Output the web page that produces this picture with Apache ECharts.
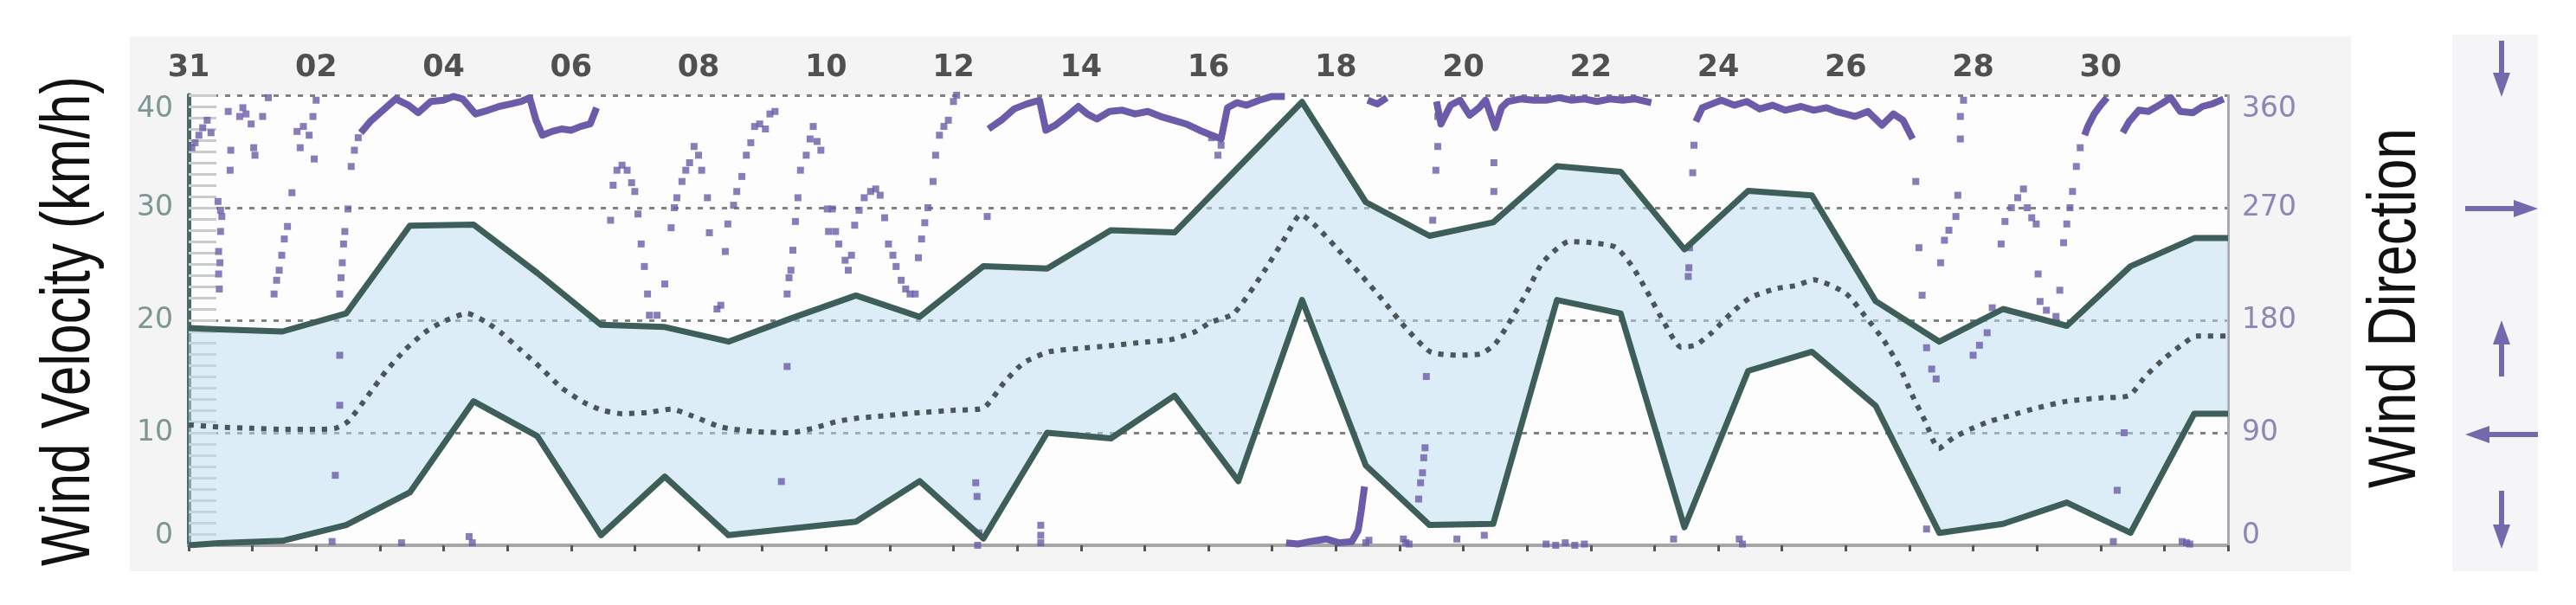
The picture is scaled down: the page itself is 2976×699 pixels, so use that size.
<!DOCTYPE html>
<html>
<head>
<meta charset="utf-8">
<script src="https://cdn.jsdelivr.net/npm/echarts@6/dist/echarts.min.js"></script>
<style>
html, body { margin: 0; padding: 0; background: #fff; }
.wrap { position: relative; width: 2976px; height: 699px; }
.panel { position: absolute; left: 150px; top: 42px; width: 2566px; height: 618px; background: #f4f4f4; }
.arrows { position: absolute; left: 2833px; top: 40px; width: 99px; height: 620px; background: #f5f5f7; }
#chart { position: absolute; left: 0; top: 0; width: 2976px; height: 699px; }
</style>
</head>
<body>
<div class="wrap">
  <div class="panel"></div>
  <div class="arrows"></div>
  <div id="chart"></div>
</div>
<script>
// day offsets from Dec 31, labels every 2 days
const tickDays = [0, 2, 4, 6, 8, 10, 12, 14, 16, 18, 20, 22, 24, 26, 28, 30];
const tickLabels = ['31', '02', '04', '06', '08', '10', '12', '14', '16', '18', '20', '22', '24', '26', '28', '30'];

// daily max / min wind velocity (km/h)
const bandDays = [0, 0.47, 1.47, 2.47, 3.47, 4.47, 5.47, 6.47, 7.47, 8.47, 9.47, 10.47, 11.47, 12.47, 13.47, 14.47, 15.47,
  16.47, 17.47, 18.47, 19.47, 20.47, 21.47, 22.47, 23.47, 24.47, 25.47, 26.47, 27.47, 28.47, 29.47, 30.47, 31.47, 32];
const maxSpeed = [19.3, 19.2, 19.0, 20.6, 28.4, 28.5, 24.2, 19.6, 19.4, 18.1, 20.2, 22.2, 20.3, 24.8, 24.6, 28.0, 27.8,
  33.6, 39.4, 30.5, 27.5, 28.7, 33.7, 33.2, 26.3, 31.5, 31.1, 21.7, 18.1, 21.0, 19.5, 24.8, 27.3, 27.3];
const minSpeed = [0.0, 0.2, 0.4, 1.8, 4.7, 12.8, 9.7, 0.9, 6.1, 0.9, 1.5, 2.1, 5.7, 0.6, 10.0, 9.5, 13.3,
  5.7, 21.8, 7.1, 1.8, 1.9, 21.8, 20.6, 1.6, 15.5, 17.2, 12.4, 1.1, 1.9, 3.8, 1.1, 11.7, 11.7];

// running mean velocity (dotted)
const meanSpeed = [[0, 10.7], [0.5, 10.5], [1.0, 10.4], [1.5, 10.3], [2.0, 10.3], [2.3, 10.4], [2.5, 11.0], [2.8, 13.2],
  [3.1, 15.5], [3.4, 17.4], [3.7, 18.9], [4.0, 19.9], [4.37, 20.6], [4.65, 19.9], [4.9, 18.9], [5.2, 17.4], [5.52, 15.8],
  [5.85, 14.0], [6.2, 12.7], [6.49, 12.0], [6.8, 11.7], [7.2, 11.8], [7.57, 12.1], [7.9, 11.5], [8.36, 10.5], [8.9, 10.1],
  [9.44, 10.0], [9.8, 10.4], [10.17, 11.0], [10.5, 11.3], [10.9, 11.5], [11.5, 11.8], [12.0, 12.0], [12.47, 12.2],
  [12.8, 14.5], [13.1, 16.2], [13.5, 17.2], [14.0, 17.5], [14.4, 17.7], [14.9, 18.0], [15.43, 18.3], [15.8, 19.0],
  [16.03, 19.8], [16.4, 20.6], [16.88, 24.4], [17.2, 27.3], [17.45, 29.4], [17.7, 28.3], [18.0, 26.5], [18.4, 24.0],
  [18.75, 21.7], [19.1, 19.3], [19.48, 17.2], [19.9, 16.9], [20.27, 17.0], [20.5, 17.9], [20.7, 19.6], [21.0, 22.5],
  [21.24, 25.1], [21.66, 27.0], [22.0, 26.9], [22.39, 26.5], [22.65, 24.8], [22.87, 22.7], [23.15, 19.8], [23.42, 17.6],
  [23.65, 17.8], [23.9, 18.9], [24.2, 20.6], [24.5, 22.0], [24.9, 22.8], [25.23, 23.1], [25.5, 23.6], [26.0, 22.4],
  [26.3, 20.4], [26.6, 18.2], [26.85, 15.8], [27.04, 13.4], [27.25, 11.0], [27.46, 8.6], [27.7, 9.6], [27.95, 10.3],
  [28.25, 11.0], [28.56, 11.5], [29.0, 12.2], [29.47, 12.8], [30.0, 13.1], [30.45, 13.3], [30.7, 15.0], [30.98, 16.5],
  [31.25, 17.7], [31.5, 18.6], [32, 18.6]];

// wind direction (deg): dense runs drawn as lines
const dirRuns = [
  [[2.70, 330], [2.85, 339], [3.05, 348], [3.25, 357], [3.45, 352], [3.6, 346], [3.8, 355], [4.0, 356], [4.15, 359], [4.3, 357],
   [4.5, 345], [4.7, 348], [4.87, 351], [5.05, 353], [5.22, 355], [5.35, 358], [5.45, 340], [5.55, 328], [5.7, 331], [5.85, 333],
   [6.0, 332], [6.15, 335], [6.3, 337], [6.4, 350]],
  [[12.55, 333], [12.75, 340], [12.95, 349], [13.15, 353], [13.35, 356], [13.45, 332], [13.6, 336], [13.8, 344], [13.96, 351],
   [14.1, 345], [14.25, 341], [14.45, 347], [14.65, 348], [14.85, 345], [15.05, 347], [15.25, 343], [15.45, 340], [15.65, 337],
   [15.86, 332], [16.05, 328], [16.2, 325], [16.3, 350], [16.45, 354], [16.6, 352], [16.8, 356], [17.0, 359], [17.2, 359]],
  [[17.22, 2], [17.4, 1], [17.6, 3], [17.85, 5], [18.05, 2], [18.25, 3], [18.35, 12], [18.4, 28], [18.45, 47]],
  [[18.5, 356], [18.65, 353], [18.8, 358]],
  [[19.58, 355], [19.65, 337], [19.8, 352], [19.95, 356], [20.1, 344], [20.25, 350], [20.35, 356], [20.5, 334], [20.6, 350],
   [20.7, 355], [20.9, 357], [21.1, 356], [21.3, 356], [21.5, 358], [21.7, 356], [21.9, 357], [22.1, 355], [22.3, 357],
   [22.5, 356], [22.7, 357], [22.95, 354]],
  [[23.65, 339], [23.75, 350], [23.9, 353], [24.05, 356], [24.25, 352], [24.45, 355], [24.65, 349], [24.85, 352], [25.05, 348],
   [25.3, 351], [25.5, 348], [25.7, 350], [25.85, 347], [26.0, 345], [26.15, 343], [26.35, 347], [26.57, 336], [26.75, 345],
   [26.9, 340], [27.05, 325]],
  [[29.75, 328], [29.8, 335], [29.9, 345], [30.0, 352], [30.1, 358]],
  [[30.35, 330], [30.45, 339], [30.6, 348], [30.75, 347], [30.95, 353], [31.1, 358], [31.25, 347], [31.45, 346], [31.6, 351],
   [31.75, 353], [31.93, 357]]
];

// wind direction (deg): sparse readings drawn as dots
const dirDots = [
  [0.05, 318], [0.1, 322], [0.16, 328], [0.22, 334], [0.29, 340], [0.35, 330], [0.46, 275], [0.5, 268], [0.52, 263], [0.5, 251],
  [0.47, 235], [0.49, 226], [0.47, 217], [0.48, 205], [0.65, 300], [0.66, 316], [0.62, 347], [0.8, 343], [0.85, 350], [0.9, 345],
  [0.98, 337], [1.02, 318], [1.04, 312], [1.16, 343], [1.25, 358],
  [1.34, 201], [1.38, 212], [1.42, 220], [1.46, 232], [1.5, 245], [1.55, 255], [1.62, 282], [1.7, 331], [1.75, 318], [1.8, 335],
  [1.89, 328], [1.95, 343], [1.97, 309], [2.0, 356],
  [2.37, 201], [2.39, 214], [2.41, 226], [2.43, 241], [2.45, 251], [2.5, 269], [2.55, 303], [2.6, 316], [2.66, 326],
  [2.37, 152], [2.37, 112], [2.3, 56], [2.25, 3], [3.34, 2], [4.4, 7], [4.45, 2],
  [6.62, 260], [6.66, 288], [6.72, 300], [6.8, 304], [6.88, 300], [6.95, 290], [7.0, 283], [7.05, 265], [7.1, 241], [7.15, 223],
  [7.2, 201], [7.23, 184], [7.35, 184], [7.47, 209], [7.57, 254], [7.62, 270], [7.66, 278], [7.74, 291], [7.8, 300], [7.86, 306],
  [7.93, 319], [8.0, 312], [8.05, 300], [8.14, 278], [8.17, 250], [8.29, 189], [8.35, 192], [8.42, 235], [8.46, 257], [8.55, 272],
  [8.6, 283], [8.68, 295], [8.75, 312], [8.82, 322], [8.88, 335], [8.96, 337], [9.05, 333], [9.12, 345], [9.2, 347],
  [9.39, 201], [9.42, 214], [9.45, 220], [9.48, 236], [9.52, 259], [9.56, 278], [9.6, 300], [9.69, 312], [9.75, 325], [9.8, 335],
  [9.86, 323], [9.92, 316], [10.02, 269], [10.04, 251], [10.1, 269], [10.15, 251], [10.2, 241], [10.3, 228], [10.35, 220],
  [10.4, 232], [10.45, 256], [10.52, 268], [10.6, 278], [10.7, 283], [10.78, 285], [10.85, 280], [10.92, 262], [10.98, 241],
  [11.05, 232], [11.1, 223], [11.18, 212], [11.25, 205], [11.32, 201], [11.4, 201], [11.45, 230], [11.5, 245], [11.55, 258],
  [11.6, 270], [11.68, 291], [11.72, 312], [11.78, 328], [11.85, 335], [11.92, 340], [12.0, 355], [12.05, 360],
  [12.53, 263], [9.39, 143], [9.3, 51], [12.35, 50], [12.37, 39], [12.4, 10], [12.38, 0], [13.37, 16], [13.37, 8], [13.37, 2],
  [16.05, 326], [16.15, 312], [16.2, 320],
  [18.47, 2], [18.52, 4], [19.06, 5], [19.1, 2], [19.15, 1],
  [19.3, 37], [19.33, 50], [19.36, 58], [19.38, 70], [19.4, 78], [19.42, 135], [19.52, 260], [19.57, 300], [19.6, 319], [19.6, 343],
  [19.9, 5], [20.33, 8], [20.48, 306], [20.48, 283], [21.3, 1], [21.45, 0], [21.6, 2], [21.75, 0], [21.9, 1], [23.3, 5],
  [24.33, 5], [24.38, 1],
  [23.53, 215], [23.54, 222], [23.55, 238], [23.6, 298], [23.62, 320],
  [27.1, 291], [27.15, 238], [27.2, 200], [27.27, 158], [27.35, 141], [27.42, 133], [27.49, 226], [27.55, 244], [27.62, 252],
  [27.73, 263], [27.76, 280], [27.8, 343], [27.8, 325], [27.85, 356], [28.0, 152], [28.1, 160], [28.22, 170], [28.3, 190],
  [28.44, 241], [28.5, 259], [28.6, 270], [28.7, 278], [28.79, 285], [28.85, 270], [28.92, 262], [28.99, 257], [29.02, 217],
  [29.05, 195], [29.15, 188], [29.3, 183], [29.36, 204], [29.42, 242], [29.47, 257], [29.52, 270], [29.56, 283], [29.62, 303],
  [29.68, 318], [30.26, 44], [30.37, 90], [30.2, 3], [31.28, 3], [31.35, 2], [31.4, 1], [27.27, 13]
];

const maxLine = bandDays.map((d, i) => [d, maxSpeed[i]]);
const minLine = bandDays.map((d, i) => [d, minSpeed[i]]);

const green = '#3e5e59';
const purple = '#6b5ba8';
const arrowColor = '#7569ae';

function arrow(x1, y1, x2, y2) {
  const dx = x2 - x1, dy = y2 - y1;
  const len = Math.sqrt(dx * dx + dy * dy);
  const ux = dx / len, uy = dy / len;
  const hl = 28, hw = 10;
  const bx = x2 - ux * hl, by = y2 - uy * hl;
  return [
    { type: 'line', z: 50, shape: { x1: x1, y1: y1, x2: bx, y2: by }, style: { stroke: arrowColor, lineWidth: 6 } },
    { type: 'polygon', z: 50, shape: { points: [[x2, y2], [bx - uy * hw, by + ux * hw], [bx + uy * hw, by - ux * hw]] },
      style: { fill: arrowColor } }
  ];
}

const chart = echarts.init(document.getElementById('chart'));

const series = [
  {
    // filled band between daily min and max
    name: 'band', type: 'custom', data: [[0, 0]], z: 1, silent: true, clip: true,
    renderItem: function (params, api) {
      const pts = maxLine.map(p => api.coord(p))
        .concat(minLine.slice().reverse().map(p => api.coord(p)));
      return { type: 'polygon', shape: { points: pts }, style: { fill: 'rgba(188,221,242,0.5)' } };
    }
  },
  {
    name: 'mean', type: 'line', data: meanSpeed, symbol: 'none', z: 4, smooth: 0.2,
    lineStyle: { color: '#4c5559', width: 6, type: [6, 8], cap: 'butt' }
  },
  {
    name: 'max', type: 'line', data: maxLine, symbol: 'none', z: 5,
    lineStyle: { color: green, width: 7, join: 'round' }
  },
  {
    name: 'min', type: 'line', data: minLine, symbol: 'none', z: 5,
    lineStyle: { color: green, width: 7, join: 'round' }
  },
  {
    name: 'dirDots', type: 'scatter', yAxisIndex: 1, data: dirDots, symbol: 'rect', symbolSize: 8, z: 3,
    itemStyle: { color: purple }
  }
];
dirRuns.forEach((run, i) => {
  series.push({
    name: 'dirRun' + i, type: 'line', yAxisIndex: 1, data: run, symbol: 'none', z: 3,
    lineStyle: { color: purple, width: 8, join: 'round' }
  });
});

chart.setOption({
  animation: false,
  grid: {
    left: 218, top: 110, width: 2356, height: 520,
    show: true, backgroundColor: '#fdfdfd', borderWidth: 0,
    outerBoundsMode: 'none'
  },
  xAxis: {
    type: 'value', position: 'top', min: 0, max: 32, interval: 1,
    axisLine: { show: true, lineStyle: { color: '#a6a6a6', width: 4 } },
    axisTick: { show: true, inside: true, length: 7, lineStyle: { color: '#555', width: 3 } },
    splitLine: { show: false },
    axisLabel: {
      margin: 14, color: '#505050', fontSize: 35, fontWeight: 'bold', fontFamily: 'DejaVu Sans',
      formatter: function (v) {
        const i = tickDays.indexOf(v);
        return i >= 0 ? tickLabels[i] : '';
      }
    }
  },
  yAxis: [
    {
      type: 'value', min: 0, max: 40, interval: 10,
      axisLine: { show: true, lineStyle: { color: '#4a6a65', width: 5 } },
      axisTick: { show: true, inside: true, length: 32, lineStyle: { color: '#c9cccc', width: 3 } },
      minorTick: { show: true, splitNumber: 10, length: 32, lineStyle: { color: '#c9cccc', width: 3 } },
      splitLine: { show: true, lineStyle: { color: '#7d8385', width: 3, type: [6, 8] } },
      axisLabel: {
        margin: 18, color: '#7d9691', fontSize: 33, fontFamily: 'DejaVu Sans', lineHeight: 11,
        formatter: function (v) {
          if (v === 40) return '\n\n\n40';
          if (v === 0) return '0\n \n ';
          return String(v);
        }
      }
    },
    {
      type: 'value', min: 0, max: 360, interval: 90, position: 'right',
      axisLine: { show: true, lineStyle: { color: '#a9a9b3', width: 3 } },
      axisTick: { show: false },
      splitLine: { show: false },
      axisLabel: {
        margin: 16, color: '#8e87b6', fontSize: 33, fontFamily: 'DejaVu Sans', lineHeight: 11,
        formatter: function (v) {
          if (v === 360) return '\n\n\n360';
          if (v === 0) return '0\n \n ';
          return String(v);
        }
      }
    }
  ],
  graphic: [
    {
      type: 'text', x: 81, y: 371, rotation: Math.PI / 2, scaleX: 0.776, z: 50,
      style: {
        text: 'Wind Velocity (km/h)', fontSize: 80, fontFamily: 'Liberation Sans', fill: '#111',
        align: 'center', verticalAlign: 'middle', textAlign: 'center', textVerticalAlign: 'middle'
      }
    },
    {
      type: 'text', x: 2768, y: 356, rotation: Math.PI / 2, scaleX: 0.82, z: 50,
      style: {
        text: 'Wind Direction', fontSize: 78, fontFamily: 'Liberation Sans', fill: '#111',
        align: 'center', verticalAlign: 'middle', textAlign: 'center', textVerticalAlign: 'middle'
      }
    }
  ].concat(
    arrow(2890, 47, 2890, 112),
    arrow(2848, 241, 2932, 241),
    arrow(2890, 435, 2890, 370),
    arrow(2932, 502, 2848, 502),
    arrow(2890, 567, 2890, 634)
  ),
  series: series
});
</script>
</body>
</html>
